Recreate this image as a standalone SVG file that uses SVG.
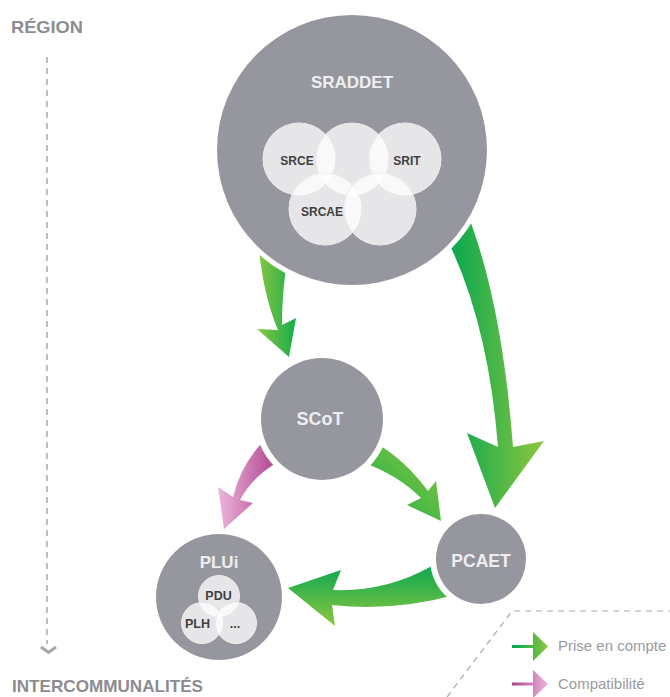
<svg xmlns="http://www.w3.org/2000/svg" width="670" height="697" viewBox="0 0 670 697">
<defs>
<linearGradient id="gLD" x1="0" y1="0" x2="1" y2="0"><stop offset="0" stop-color="#8dc63f"/><stop offset="1" stop-color="#14ad4c"/></linearGradient>
<linearGradient id="gDL" x1="0" y1="0" x2="1" y2="0"><stop offset="0" stop-color="#00a651"/><stop offset="1" stop-color="#8dc63f"/></linearGradient>
<linearGradient id="gDiag" x1="1" y1="0" x2="0" y2="1"><stop offset="0" stop-color="#8dc63f"/><stop offset="1" stop-color="#16ae4b"/></linearGradient>
<linearGradient id="gV" x1="0" y1="0" x2="0" y2="1"><stop offset="0" stop-color="#00a651"/><stop offset="1" stop-color="#8dc63f"/></linearGradient>
<linearGradient id="gPink" x1="0" y1="0" x2="1" y2="0"><stop offset="0" stop-color="#ebb6da"/><stop offset="1" stop-color="#b0408e"/></linearGradient>
<linearGradient id="gLegG" gradientUnits="userSpaceOnUse" x1="512" y1="0" x2="548" y2="0"><stop offset="0" stop-color="#00a651"/><stop offset="1" stop-color="#8dc63f"/></linearGradient>
<linearGradient id="gLegP" gradientUnits="userSpaceOnUse" x1="512" y1="0" x2="548" y2="0"><stop offset="0" stop-color="#b0408e"/><stop offset="1" stop-color="#ebb6da"/></linearGradient>
</defs>
<style>
.ring{fill:#ffffff}
.node{fill:#96969f}
.sub{fill:#ffffff;fill-opacity:0.76;stroke:#ededef;stroke-width:1}
.t{font-family:"Liberation Sans",Arial,sans-serif;font-weight:bold;text-anchor:middle}
.nt{fill:#eeeef0;font-size:17px}
.st{fill:#3f3f42;font-size:12px}
.ax{font-family:"Liberation Sans",Arial,sans-serif;font-weight:bold;fill:#8c8c90;font-size:17px}
.lg{font-family:"Liberation Sans",Arial,sans-serif;fill:#9a9a9e;font-size:15px}
.dash{fill:none;stroke:#a8a8ae;stroke-width:1.2;stroke-dasharray:6 5}
</style>

<g id="axis">
<text class="ax" x="11" y="33" textLength="72" lengthAdjust="spacingAndGlyphs">RÉGION</text>
<line x1="47" y1="57" x2="47" y2="644" stroke="#a6a6ae" stroke-width="1.5" stroke-dasharray="6 5"/>
<polyline points="41,647 48.5,652.5 56,647" fill="none" stroke="#a6a6ae" stroke-width="3"/>
<text class="ax" x="12" y="692" textLength="191" lengthAdjust="spacingAndGlyphs">INTERCOMMUNALITÉS</text>
</g>

<g id="connectors">
<path id="a-sraddet-scot" fill="url(#gLD)" d="M258,240 C262,285 270,310 278,330 L257,329 L289,357 L296,318 L282,325 C282,300 284,280 288,255 Z"/>
<path id="a-sraddet-pcaet" fill="url(#gDL)" d="M445,235 Q488,320 498,447 L467,433 L495,508 L544,441 L513,447 Q502,300 466,210 Z"/>
<path id="a-scot-pcaet" fill="url(#gDiag)" d="M362,462 Q398,475 421,498 L407,505 L441,521 L436,481 L428,491 Q405,460 376,443 Z"/>
<path id="a-pcaet-plui" fill="url(#gV)" d="M438,561 L430,567 Q385,592 333,590 L341,570 L288,588 L335,626 L332,605 Q395,612 458,594 Z"/>
<path id="a-scot-plui" fill="url(#gPink)" d="M268,438 L260,445 Q240,468 233,497 L218,487 L224,529 L253,503 L240,500 Q252,478 273,465 L278,458 Z"/>
</g>

<g id="sraddet">
<circle class="ring" cx="352" cy="150" r="140"/>
<circle class="node" cx="352" cy="150" r="135"/>
<text class="t nt" x="352" y="88">SRADDET</text>
<circle class="sub" cx="299" cy="159" r="36"/>
<circle class="sub" cx="352" cy="159" r="36"/>
<circle class="sub" cx="405" cy="159" r="36"/>
<circle class="sub" cx="325" cy="209" r="36"/>
<circle class="sub" cx="380" cy="209" r="36"/>
<text class="t st" x="297" y="165">SRCE</text>
<text class="t st" x="407" y="165">SRIT</text>
<text class="t st" x="322" y="216">SRCAE</text>
</g>

<g id="scot">
<circle class="ring" cx="322" cy="419" r="67"/>
<circle class="node" cx="322" cy="419" r="61"/>
<text class="t nt" x="320" y="425" style="font-size:18px">SCoT</text>
</g>

<g id="pcaet">
<circle class="ring" cx="481" cy="559" r="51"/>
<circle class="node" cx="481" cy="559" r="45"/>
<text class="t nt" x="481" y="567" style="font-size:17.5px">PCAET</text>
</g>

<g id="plui">
<circle class="ring" cx="219" cy="597" r="68"/>
<circle class="node" cx="219" cy="597" r="63"/>
<text class="t nt" x="219" y="568">PLUi</text>
<circle class="sub" cx="219" cy="596" r="20.5"/>
<circle class="sub" cx="202" cy="623" r="20.5"/>
<circle class="sub" cx="236" cy="623" r="20.5"/>
<text class="t st" x="218.5" y="600" style="font-size:12.5px">PDU</text>
<text class="t st" x="197.5" y="628" style="font-size:12.5px">PLH</text>
<text class="t st" x="235" y="628" style="font-size:12.5px">...</text>
</g>

<g id="legend">
<polyline class="dash" points="447,697 512,611 670,611"/>
<rect x="512" y="645" width="22" height="3" fill="url(#gLegG)"/>
<polygon points="533,632 548,646.5 533,661" fill="url(#gLegG)"/>
<text class="lg" x="558" y="651">Prise en compte</text>
<rect x="512" y="682.5" width="22" height="3" fill="url(#gLegP)"/>
<polygon points="533,670 548,684 533,698" fill="url(#gLegP)"/>
<text class="lg" x="558" y="689">Compatibilité</text>
</g>
</svg>
